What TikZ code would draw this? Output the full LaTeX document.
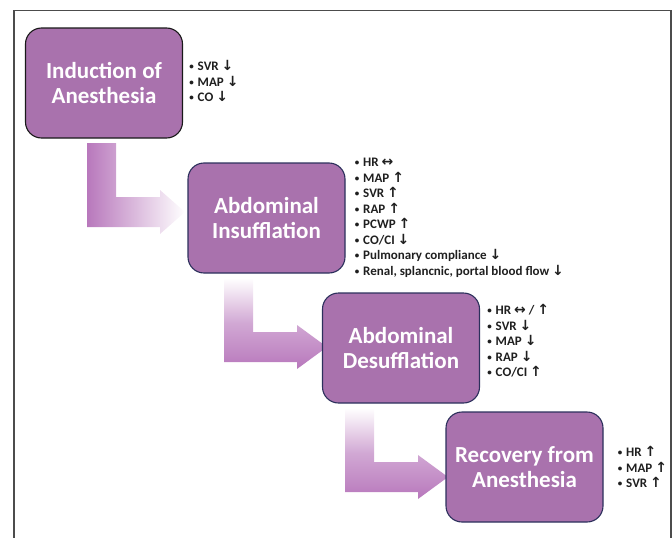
\documentclass[tikz,border=0pt]{standalone}
\usepackage{fontspec}
\setmainfont{Carlito}
\newfontfamily\symfont{DejaVu Sans}
\usetikzlibrary{positioning}
\definecolor{boxpurple}{RGB}{169,114,173}
\definecolor{boxline}{RGB}{44,48,92}
\definecolor{arrowpurple}{RGB}{184,120,188}
\newcommand{\ardn}{{\symfont\fontsize{14}{15.5}\selectfont ↓}}
\newcommand{\arup}{{\symfont\fontsize{14}{15.5}\selectfont ↑}}
\newcommand{\arlr}{{\symfont\fontsize{14}{15.5}\selectfont ↔}}
\newcommand{\puce}{\raisebox{1pt}{\fontsize{9}{9}\selectfont\textbullet}\hspace{4pt}}

\begin{document}
\begin{tikzpicture}[x=1pt,y=-1pt]
% les styles
\tikzstyle etape=[draw=boxline,line width=1.1pt,fill=boxpurple,rounded corners=16pt,minimum width=157pt,minimum height=110pt,inner sep=0pt,text=white,align=center,font=\bfseries\fontsize{23}{25.5}\selectfont]
\tikzstyle liste=[inner sep=0pt,align=left,text=black!88,font=\bfseries\fontsize{13}{15.5}\selectfont]
\tikzstyle cadre=[color=black!70,line width=1.2pt]
\tikzstyle flechehoriz=[left color=arrowpurple,right color=white]
\tikzstyle flechevert=[top color=white,bottom color=arrowpurple,middle color=arrowpurple!65]

\useasboundingbox (0,0) rectangle (672,538);
% le cadre (ouvert en bas)
\draw[cadre] (14,538) -- (14,10.5) -- (671,10.5) -- (671,538);

% les flèches en L
\foreach \x/\y/\tip/\sty in {87/143/98/flechehoriz, 224/278/103/flechevert, 345/408/103/flechevert}
    \shade[shift={(\x,\y)},\sty]
        (0,0) -- (29,0) -- (29,54) -- (73,54) -- (73,47) -- (\tip,69) -- (73,91) -- (73,84) -- (0,84) -- cycle;

% les étapes
\node[etape,draw=black!90] (induction) at (104,83) {Induction of\\Anesthesia};
\node[etape] (insufflation) at (266.5,218) {Abdominal\\Insufflation};
\node[etape] (desufflation) at (401,348) {Abdominal\\Desufflation};
\node[etape] (recovery) at (524.5,467) {Recovery from\\Anesthesia};

% les effets
\node[liste,right=6pt of induction,yshift=2pt] (effetsinduction) {\puce SVR \ardn\\\puce MAP \ardn\\\puce CO \ardn};
\node[liste,right=9pt of insufflation] (effetsinsufflation) {\puce HR \arlr\\\puce MAP \arup\\\puce SVR \arup\\\puce RAP \arup\\\puce PCWP \arup\\\puce CO/CI \ardn\\\puce Pulmonary compliance \ardn\\\puce Renal, splancnic, portal blood flow \ardn};
\node[liste,right=7pt of desufflation,yshift=7pt] (effetsdesufflation) {\puce HR \arlr\ / \arup\\\puce SVR \ardn\\\puce MAP \ardn\\\puce RAP \ardn\\\puce CO/CI \arup};
\node[liste,right=14pt of recovery] (effetsrecovery) {\puce HR \arup\\\puce MAP \arup\\\puce SVR \arup};
\end{tikzpicture}
\end{document}
